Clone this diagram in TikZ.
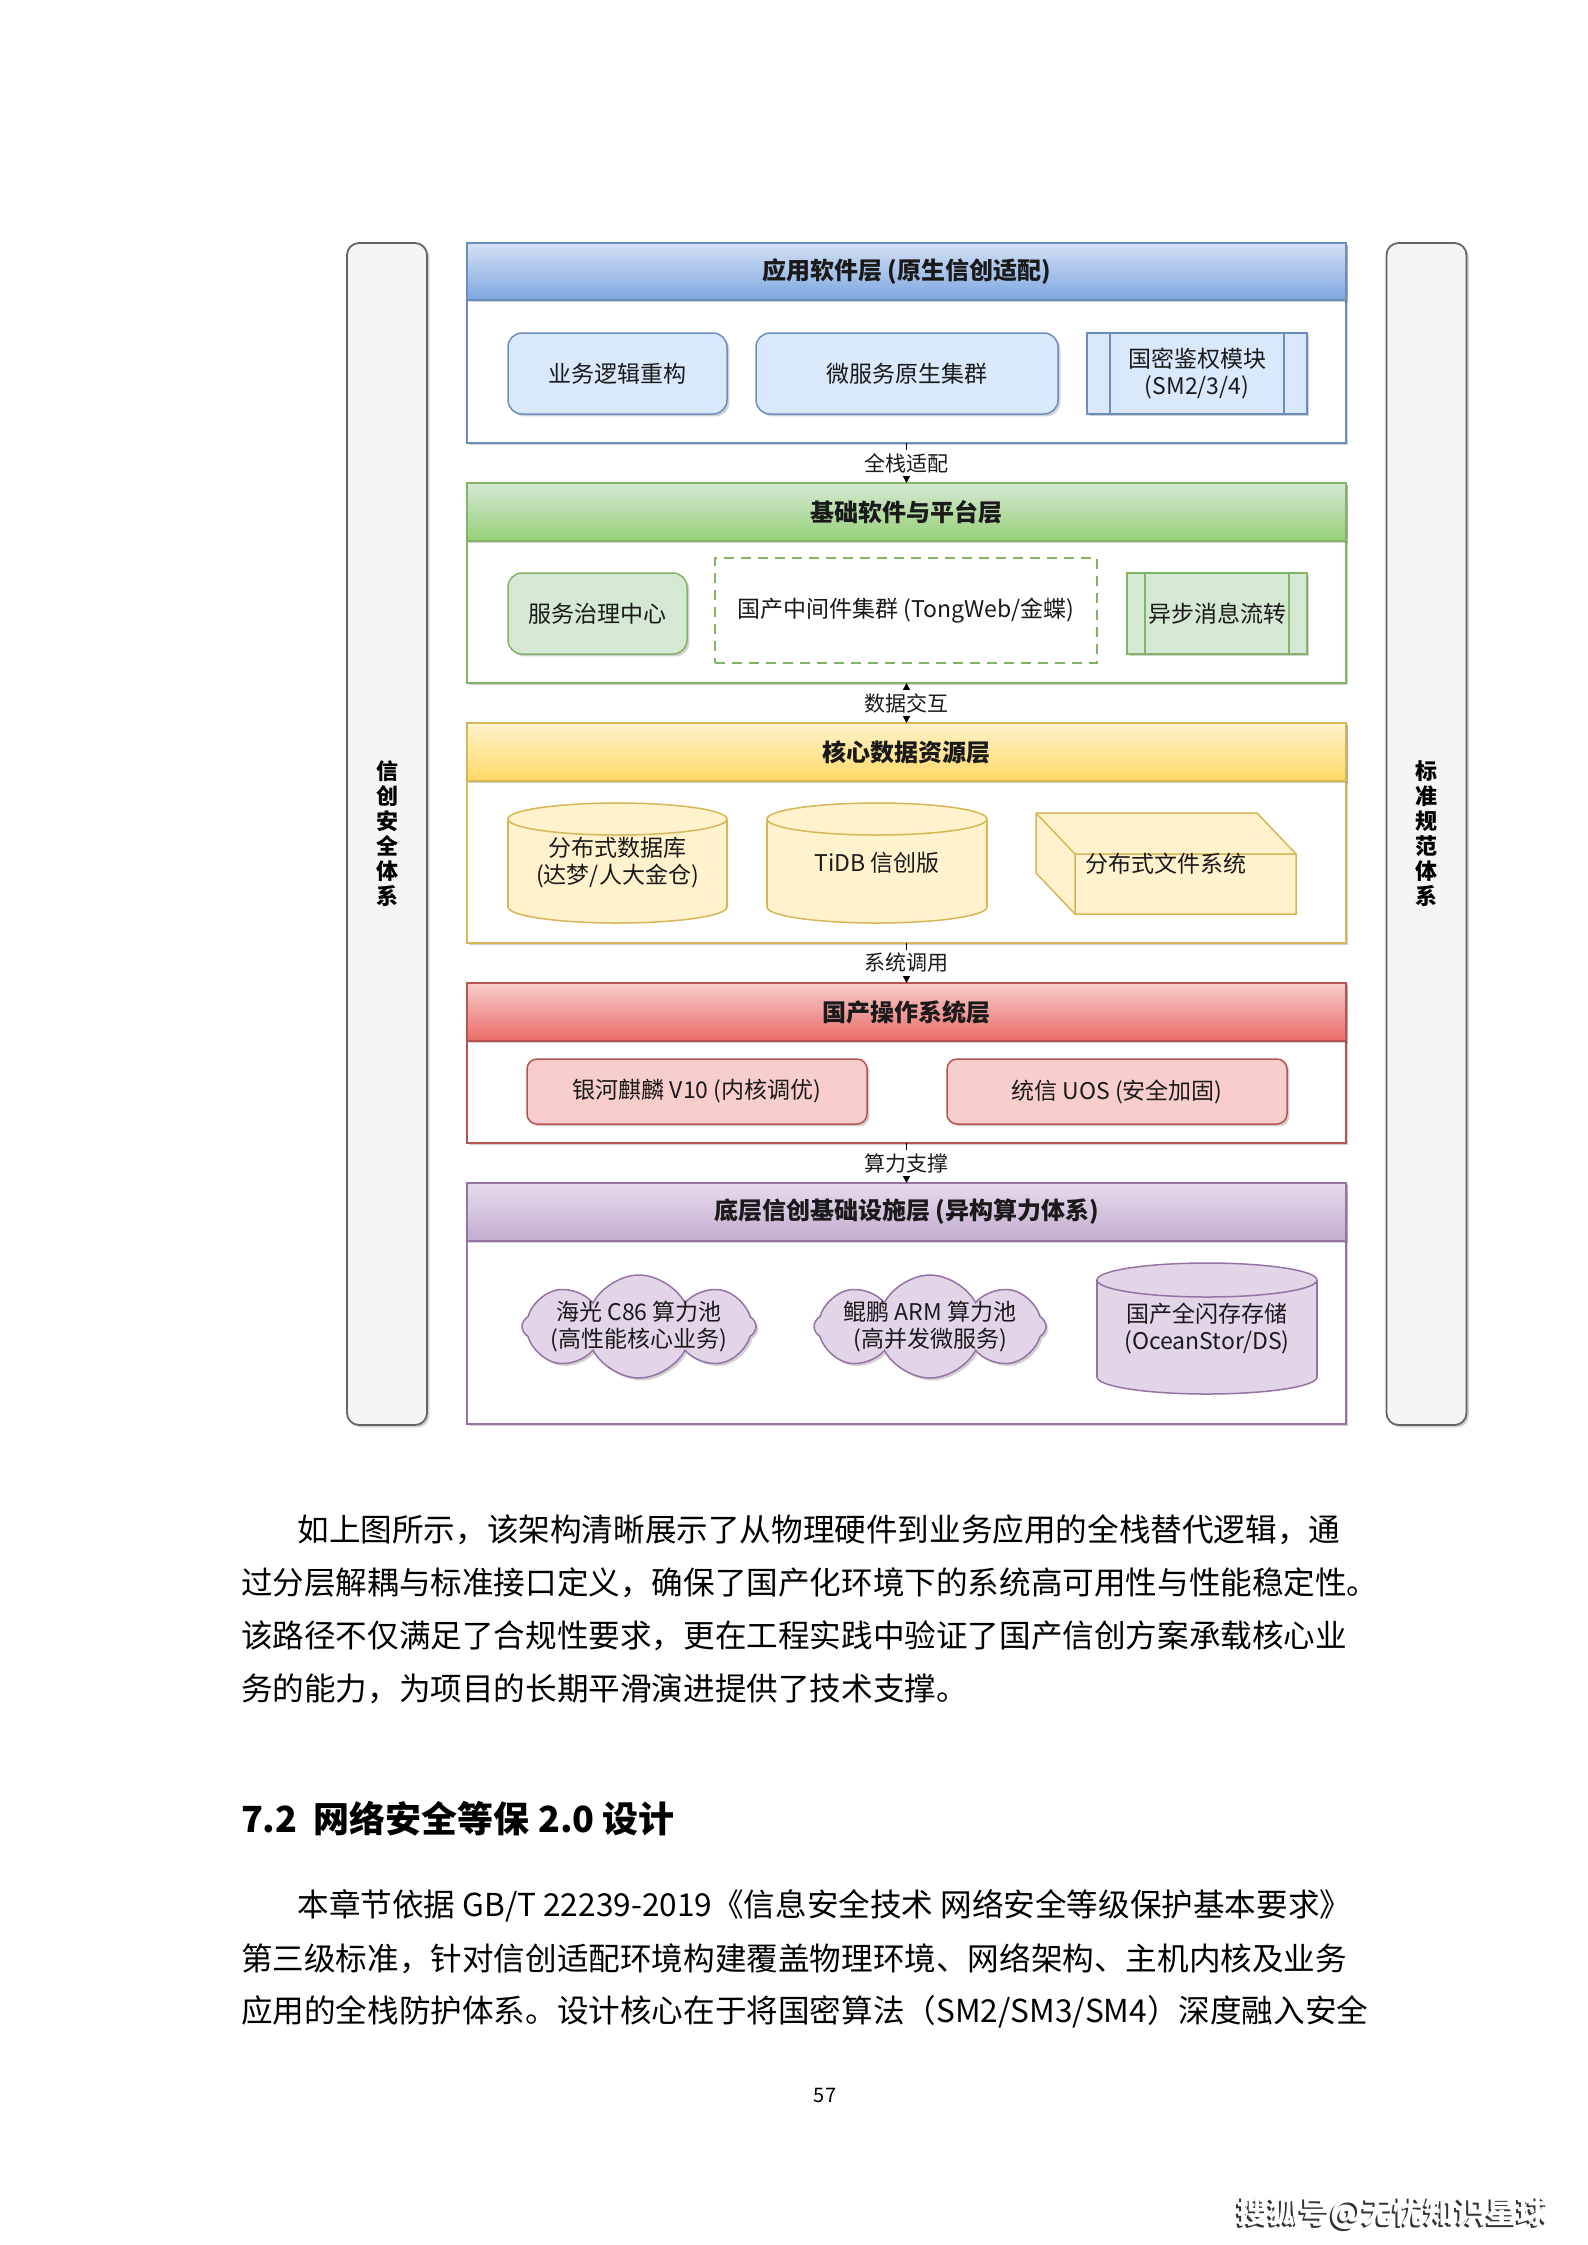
\documentclass[tikz,border=0pt]{standalone}
\usepackage{fontspec}
\setmainfont{Noto Sans CJK SC}
\usetikzlibrary{arrows.meta,shapes.symbols,shadows,calc}
\definecolor{blueS}{HTML}{6C8EBF}\definecolor{blueF}{HTML}{DAE8FC}\definecolor{blueG}{HTML}{7EA6E0}\definecolor{blueT}{HTML}{D4E1F5}
\definecolor{greenS}{HTML}{82B366}\definecolor{greenF}{HTML}{D5E8D4}\definecolor{greenG}{HTML}{97D077}\definecolor{greenT}{HTML}{D5E8D4}
\definecolor{yellowS}{HTML}{D6B656}\definecolor{yellowF}{HTML}{FFF2CC}\definecolor{yellowG}{HTML}{FFD966}\definecolor{yellowT}{HTML}{FFF2CC}
\definecolor{redS}{HTML}{B85450}\definecolor{redF}{HTML}{F8CECC}\definecolor{redG}{HTML}{EA6B66}\definecolor{redT}{HTML}{F8CECC}
\definecolor{purpleS}{HTML}{9673A6}\definecolor{purpleF}{HTML}{E1D5E7}\definecolor{purpleG}{HTML}{C3ABD0}\definecolor{purpleT}{HTML}{E6DCEB}
\definecolor{sideS}{HTML}{666666}\definecolor{sideF}{HTML}{F5F5F5}
\definecolor{ink}{HTML}{1A1A1A}

\newcommand\mycyl[8]{%
  \pgfmathsetmacro\cylcx{(#2+#3)/2}%
  \pgfmathsetmacro\cylrx{(#3-#2)/4}%
  \pgfmathsetmacro\cylry{#6/2}%
  \pgfmathsetmacro\cylyt{#4+#6}%
  \pgfmathsetmacro\cylyb{#5-#6}%
  \pgfmathsetmacro\cylcy{(#4+#5)/2}%
  \filldraw[fill=#7F, draw=#7S, line width=0.75pt] (\cylcx,\cylyb) ellipse [x radius=\cylrx pt, y radius=\cylry pt];
  \fill[#7F] (#2+1,\cylyt) rectangle (#3-1,\cylyb);
  \draw[#7S, line width=0.75pt] (#2,\cylyt) -- (#2,\cylyb) (#3,\cylyt) -- (#3,\cylyb);
  \filldraw[fill=#7F, draw=#7S, line width=0.75pt] (\cylcx,\cylyt) ellipse [x radius=\cylrx pt, y radius=\cylry pt];
  \node[txt] (#1) at (\cylcx,\cylcy) {#8};
}

\begin{document}
\begin{tikzpicture}[x=0.5pt,y=-0.5pt,
  shad/.style={drop shadow={shadow xshift=1.2pt,shadow yshift=-1.2pt,opacity=0.18,fill=black}},
  layer/.style={draw=#1S, fill=white, line width=0.9pt, inner sep=0pt, outer sep=0pt, minimum width=439.5pt, shad},
  hdr/.style={draw=#1S, top color=#1T, bottom color=#1G, line width=0.9pt, inner sep=0pt, outer sep=0pt,
    minimum width=439.5pt, minimum height=29pt, text=ink, font=\fontsize{12}{14}\selectfont\bfseries, shad},
  txt/.style={align=center, inner sep=0pt, text=ink, font=\fontsize{11.5}{13.5}\selectfont},
  rbox/.style={draw=#1S, fill=#1F, rounded corners=7pt, line width=0.75pt, inner sep=0pt, outer sep=0pt,
    align=center, text=ink, font=\fontsize{11.5}{13.5}\selectfont, shad},
  pbox/.style={draw=#1S, fill=#1F, line width=0.75pt, inner sep=0pt, outer sep=0pt,
    align=center, text=ink, font=\fontsize{11.5}{13.5}\selectfont, shad},
  dbox/.style={draw=greenS, fill=white, dash pattern=on 5pt off 3.5pt, line width=1.4pt, inner sep=0pt, outer sep=0pt,
    align=center, text=ink, font=\fontsize{11.5}{13.5}\selectfont},
  sbar/.style={draw=sideS, fill=sideF, rounded corners=6pt, line width=0.9pt, inner sep=0pt, outer sep=0pt,
    minimum width=40pt, minimum height=591pt, align=center, text=black,
    font=\fontsize{11}{12.5}\selectfont\bfseries, shad},
  conn/.style={draw=black, line width=0.8pt, -{Triangle[length=3.5pt,width=3.5pt]}},
  conntwo/.style={draw=black, line width=0.8pt, {Triangle[length=3.5pt,width=3.5pt]}-{Triangle[length=3.5pt,width=3.5pt]}},
  lbl/.style={fill=white, inner sep=1.5pt, text=ink, font=\fontsize{10.5}{12}\selectfont},
  body/.style={anchor=west, inner sep=0pt, text=black, font=\fontsize{15.8}{18}\selectfont},
  cloudbox/.style={cloud, cloud puffs=8, cloud puff arc=125, aspect=2.27, draw=purpleS, fill=purpleF, line width=0.75pt,
    minimum height=51.5pt, inner sep=0pt, shad},
  sohu/.style={inner sep=0pt, font=\fontsize{15.5}{18}\selectfont\bfseries}
]
\useasboundingbox[fill=white] (0,0) rectangle (1587,2245);

% side bars
\node[sbar] (SL) at (387,834) {信\\创\\安\\全\\体\\系};
\node[sbar] (SR) at (1426.5,834) {标\\准\\规\\范\\体\\系};

% layers
\node[layer=blue, minimum height=100pt] (L1) at (906.5,343) {};
\node[hdr=blue, minimum height=28.5pt] (H1) at (906.5,271.5) {应用软件层 (原生信创适配)};
\node[layer=green, minimum height=100pt] (L2) at (906.5,583) {};
\node[hdr=green] (H2) at (906.5,512) {基础软件与平台层};
\node[layer=yellow, minimum height=110pt] (L3) at (906.5,833) {};
\node[hdr=yellow] (H3) at (906.5,752) {核心数据资源层};
\node[layer=red, minimum height=80pt] (L4) at (906.5,1063) {};
\node[hdr=red] (H4) at (906.5,1012) {国产操作系统层};
\node[layer=purple, minimum height=120.5pt] (L5) at (906.5,1303.5) {};
\node[hdr=purple] (H5) at (906.5,1212) {底层信创基础设施层 (异构算力体系)};

% connectors
\draw[conn] (L1.south) -- (L2.north) node[lbl, midway] (c1) {全栈适配};
\draw[conntwo] (L2.south) -- (L3.north) node[lbl, midway] (c2) {数据交互};
\draw[conn] (L3.south) -- (L4.north) node[lbl, midway] (c3) {系统调用};
\draw[conn] (L4.south) -- (L5.north) node[lbl, midway] (c4) {算力支撑};

% layer 1 content
\node[rbox=blue, minimum width=109.5pt, minimum height=40.5pt] (b11) at (617.5,373.5) {业务逻辑重构};
\node[rbox=blue, minimum width=151pt, minimum height=40.5pt] (b12) at (907,373.5) {微服务原生集群};
\node[pbox=blue, minimum width=110pt, minimum height=40.5pt] (b13) at (1197,373.5) {国密鉴权模块\\(SM2/3/4)};
\draw[blueS, line width=0.75pt] ($(b13.north west)+(23,0)$) -- ($(b13.south west)+(23,0)$)
  ($(b13.north east)+(-23,0)$) -- ($(b13.south east)+(-23,0)$);

% layer 2 content
\node[rbox=green, minimum width=89.5pt, minimum height=40.5pt] (b21) at (597.5,613.5) {服务治理中心};
\node[dbox, minimum width=191pt, minimum height=52.5pt] (b22) at (906,610.5) {国产中间件集群 (TongWeb/金蝶)};
\node[pbox=green, minimum width=90pt, minimum height=40.5pt] (b23) at (1217,613.5) {异步消息流转};
\draw[greenS, line width=0.75pt] ($(b23.north west)+(18,0)$) -- ($(b23.south west)+(18,0)$)
  ($(b23.north east)+(-18,0)$) -- ($(b23.south east)+(-18,0)$);

% layer 3 content
\mycyl{c31}{508}{727}{803}{923}{16}{yellow}{分布式数据库\\(达梦/人大金仓)}
\mycyl{c32}{767}{987}{803}{923}{16}{yellow}{TiDB 信创版}
\filldraw[fill=yellowF, draw=yellowS, line width=0.75pt]
  (1036,813) -- (1257,813) -- (1296,854) -- (1296,914) -- (1075,914) -- (1036,873) -- cycle;
\draw[yellowS, line width=0.75pt] (1036,813) -- (1075,854) -- (1296,854) (1075,854) -- (1075,914);
\node[txt] (c33) at (1166,863.5) {分布式文件系统};

% layer 4 content
\node[rbox=red, rounded corners=5pt, minimum width=170pt, minimum height=32.5pt] (b41) at (697,1091.5) {银河麒麟 V10 (内核调优)};
\node[rbox=red, rounded corners=5pt, minimum width=170pt, minimum height=32.5pt] (b42) at (1117,1091.5) {统信 UOS (安全加固)};

% layer 5 content
\node[cloudbox, minimum width=117pt] (cl1) at (639,1326.5) {};
\node[txt] (cl1t) at (cl1.center) {海光 C86 算力池\\(高性能核心业务)};
\node[cloudbox, minimum width=116pt] (cl2) at (930,1326.5) {};
\node[txt] (cl2t) at (cl2.center) {鲲鹏 ARM 算力池\\(高并发微服务)};
\mycyl{c53}{1097}{1317}{1263}{1394}{17}{purple}{国产全闪存存储\\(OceanStor/DS)}

% body text
\node[body] (p1) at (297,1530) {如上图所示，该架构清晰展示了从物理硬件到业务应用的全栈替代逻辑，通};
\node[body] (p2) at (240.6,1583) {过分层解耦与标准接口定义，确保了国产化环境下的系统高可用性与性能稳定性。};
\node[body] (p3) at (240.6,1636) {该路径不仅满足了合规性要求，更在工程实践中验证了国产信创方案承载核心业};
\node[body] (p4) at (240.6,1689) {务的能力，为项目的长期平滑演进提供了技术支撑。};
\node[body, font=\fontsize{18}{20}\selectfont\bfseries] (hd) at (240.6,1819) {7.2\ \ 网络安全等保 2.0 设计};
\node[body] (q1) at (297,1906) {本章节依据 GB/T 22239-2019《信息安全技术 网络安全等级保护基本要求》};
\node[body] (q2) at (240.6,1959) {第三级标准，针对信创适配环境构建覆盖物理环境、网络架构、主机内核及业务};
\node[body] (q3) at (240.6,2012) {应用的全栈防护体系。设计核心在于将国密算法（SM2/SM3/SM4）深度融入安全};
\node[inner sep=0pt, font=\fontsize{10}{12}\selectfont] (pn) at (825,2095) {57};

% sohu mark
\node[sohu, text=black!80] (sh1) at (1391,2215) {搜狐号@无忧知识星球};
\node[sohu, text=white] (sh2) at (1393,2213) {搜狐号@无忧知识星球};
\end{tikzpicture}
\end{document}
